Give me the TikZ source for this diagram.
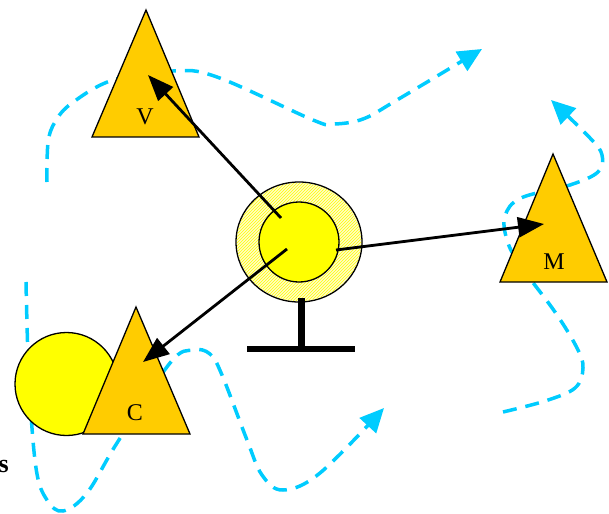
\documentclass[tikz,border=0pt]{standalone}
\usepackage{fontspec}
\setmainfont{Liberation Serif}
\usetikzlibrary{arrows.meta,patterns}
\definecolor{tri}{RGB}{255,204,0}
\definecolor{sun}{RGB}{255,255,0}
\definecolor{sky}{RGB}{0,204,255}
\definecolor{pale}{RGB}{255,252,200}
\begin{document}
\begin{tikzpicture}[x=1pt,y=-1pt,
  trishape/.style={fill=tri,draw=black,line width=1.3pt,line join=miter},
  lbl/.style={font=\fontsize{24}{24}\selectfont,inner sep=0pt},
  pointer/.style={draw=black,line width=2.8pt,-{Triangle[length=26pt,width=20pt]}},
  wander/.style={draw=sky,line width=3.5pt,dash pattern=on 14pt off 9pt,-{Triangle[length=24pt,width=22pt]}}]
\useasboundingbox (0,0) rectangle (609,513);
% dashed curves (behind)
\draw[wander] plot[smooth,tension=0.6] coordinates {(47,182) (48,143) (55,122) (72,103) (113,80) (173,71) (217,77) (313,120) (333,124) (363,119) (397,100) (482,49)};
\draw[wander] plot[smooth,tension=0.6] coordinates {(503,412) (545,401) (575,388) (583,368) (577,348) (555,312) (520,265) (507,240) (505,216) (521,198) (570,185) (598,172) (602,155) (590,138) (551,100)};
\draw[wander] plot[smooth,tension=0.6] coordinates {(26,282) (29,380) (36,468) (47,500) (63,511) (87,493) (117,443) (170,363) (193,350) (210,354) (222,375) (247,440) (262,475) (283,490) (320,473) (384,408)};
% left yellow circle
\draw[fill=sun,line width=1.3pt] (66.5,384) circle[radius=51.5];
% triangles
\draw[trishape] (146,10) -- (199,137) -- (92,137) -- cycle;
\node[lbl] (v) at (145,117) {V};
\draw[trishape] (553,154) -- (607,282) -- (500,282) -- cycle;
\node[lbl] (m) at (554,262) {M};
\draw[trishape] (136,307) -- (190,434) -- (83,434) -- cycle;
\node[lbl] (c) at (135,413) {C};
% target
\draw[fill=pale,line width=1.3pt] (299,242) ellipse[x radius=63,y radius=60];
\fill[pattern=north east lines,pattern color=sun] (299,242) ellipse[x radius=62,y radius=59];
\draw[fill=sun,line width=1.3pt] (299,242) circle[radius=40];
\node[circle,inner sep=0pt,minimum size=80pt] (t) at (299,242) {};
% stand
\fill[black] (297.5,298) rectangle (304.5,350);
\fill[black] (247,346) rectangle (355,352);
% arrow endpoints
\coordinate (sv) at (281,218);
\coordinate (ev) at (148,75);
\coordinate (sc) at (287,249);
\coordinate (ec) at (143,362);
\coordinate (sm) at (336,250);
\coordinate (em) at (544,224);
\draw[pointer] (sv) -- (ev);
\draw[pointer] (sc) -- (ec);
\draw[pointer] (sm) -- (em);
% cut-off word
\node[font=\fontsize{26}{26}\selectfont\bfseries,inner sep=0pt,anchor=base east] (s) at (9,472) {s};
\end{tikzpicture}
\end{document}
